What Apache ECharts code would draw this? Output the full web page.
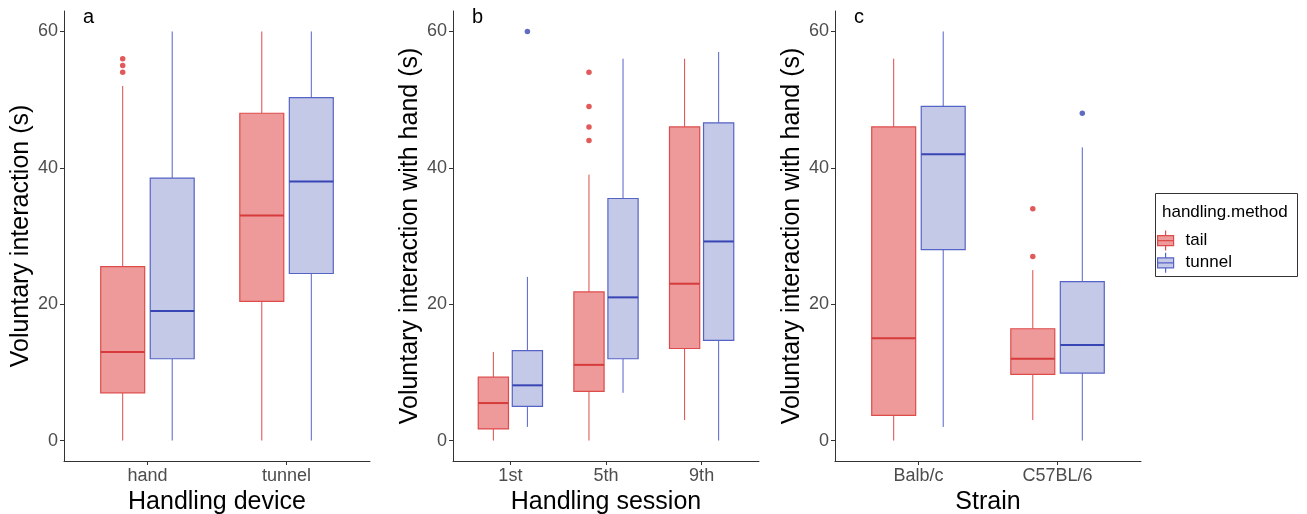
<!DOCTYPE html>
<html>
<head>
<meta charset="utf-8">
<script src="https://cdn.jsdelivr.net/npm/echarts@6/dist/echarts.min.js"></script>
<style>
  html, body { margin: 0; padding: 0; background: #fff; }
  #main { width: 1307px; height: 514px; }
</style>
</head>
<body>
<div id="main"></div>
<script>
// box stats: [whisker low, q1, median, q3, whisker high]
const aCats = ['hand', 'tunnel']
const aTailBox = [[0, 7, 13, 25.5, 52], [0, 20.4, 33, 48, 60]]
const aTunnelBox = [[0, 12, 19, 38.5, 60], [0, 24.5, 38, 50.3, 60]]
const aTailOut = [[1, 56], [1, 55], [1, 54]]
const aTunnelOut = []

const bCats = ['1st', '5th', '9th']
const bTailBox = [[0, 1.7, 5.5, 9.3, 13], [0, 7.2, 11.1, 21.8, 39], [3, 13.5, 23, 46, 56]]
const bTunnelBox = [[2, 5, 8.1, 13.2, 24], [7, 12, 21, 35.5, 56], [0, 14.7, 29.2, 46.6, 57]]
const bTailOut = [[2, 54], [2, 49], [2, 46], [2, 44]]
const bTunnelOut = [[1, 60]]

const cCats = ['Balb/c', 'C57BL/6']
const cTailBox = [[0, 3.7, 15, 46, 56], [3, 9.7, 12, 16.4, 25]]
const cTunnelBox = [[2, 28, 42, 49, 60], [0, 9.9, 14, 23.3, 43]]
const cTailOut = [[2, 34], [2, 27]]
const cTunnelOut = [[2, 48]]

const yTicks = [0, 20, 40, 60]
const FONT = 'Arial, "Liberation Sans", sans-serif'
const BOX_W = 0.316
const DODGE = 0.178

const TAIL = { fill: '#EE9A9A', stroke: '#DE4B4B', median: '#D63A3A', dot: '#D93030' }
const TUNNEL = { fill: '#C5C9E8', stroke: '#5663C6', median: '#3845B5', dot: '#3A46B3' }

const chart = echarts.init(document.getElementById('main'))

function boxRenderer(offset, col) {
    return function (params, api) {
        const x = api.value(0) + offset
        const low = api.coord([x, api.value(1)])
        const q1 = api.coord([x, api.value(2)])
        const med = api.coord([x, api.value(3)])
        const q3 = api.coord([x, api.value(4)])
        const high = api.coord([x, api.value(5)])
        const half = api.size([BOX_W, 0])[0] / 2
        return {
            type: 'group',
            children: [
                { type: 'line', shape: { x1: low[0], y1: low[1], x2: q1[0], y2: q1[1] }, style: { stroke: col.stroke, lineWidth: 1 } },
                { type: 'line', shape: { x1: q3[0], y1: q3[1], x2: high[0], y2: high[1] }, style: { stroke: col.stroke, lineWidth: 1 } },
                { type: 'rect', shape: { x: q3[0] - half, y: q3[1], width: half * 2, height: q1[1] - q3[1] }, style: { fill: col.fill, stroke: col.stroke, lineWidth: 1.2 } },
                { type: 'line', shape: { x1: med[0] - half, y1: med[1], x2: med[0] + half, y2: med[1] }, style: { stroke: col.median, lineWidth: 2 } }
            ]
        }
    }
}

function boxSeries(name, idx, boxes, offset, col) {
    return {
        name: name,
        type: 'custom',
        xAxisIndex: idx,
        yAxisIndex: idx,
        itemStyle: { color: col.fill, borderColor: col.stroke },
        encode: { x: 0, y: [1, 2, 3, 4, 5] },
        data: boxes.map((b, i) => [i + 1].concat(b)),
        renderItem: boxRenderer(offset, col)
    }
}

function outSeries(name, idx, pts, offset, col) {
    return {
        name: name,
        type: 'scatter',
        xAxisIndex: idx,
        yAxisIndex: idx,
        symbolSize: 5.5,
        itemStyle: { color: col.dot },
        data: pts.map(p => [p[0] + offset, p[1]])
    }
}

function xAxis(idx, cats, name) {
    const pos = cats.map((c, i) => i + 1)
    return {
        type: 'value',
        gridIndex: idx,
        min: 0.4,
        max: cats.length + 0.6,
        name: name,
        nameLocation: 'middle',
        nameGap: 27,
        nameTextStyle: { fontSize: 25, color: '#000', fontFamily: FONT },
        axisLine: { show: true, onZero: false, lineStyle: { color: '#333', width: 1 } },
        axisTick: { show: true, length: 4, customValues: pos, lineStyle: { color: '#333' } },
        axisLabel: {
            customValues: pos,
            formatter: v => cats[Math.round(v) - 1],
            fontSize: 18,
            color: '#4d4d4d',
            fontFamily: FONT,
            margin: 6
        },
        splitLine: { show: false }
    }
}

function yAxis(idx, name) {
    return {
        type: 'value',
        gridIndex: idx,
        min: -3,
        max: 63,
        name: name,
        nameLocation: 'middle',
        nameGap: 25,
        nameTextStyle: { fontSize: 25, color: '#000', fontFamily: FONT },
        axisLine: { show: true, onZero: false, lineStyle: { color: '#333', width: 1 } },
        axisTick: { show: true, length: 4, customValues: yTicks, lineStyle: { color: '#333' } },
        axisLabel: { customValues: yTicks, fontSize: 18, color: '#4d4d4d', fontFamily: FONT, margin: 6 },
        splitLine: { show: false }
    }
}

function letter(text, left) {
    return { text: text, left: left, top: 7, padding: 0, textStyle: { fontSize: 20, fontWeight: 'normal', color: '#000', fontFamily: FONT } }
}

chart.setOption({
    backgroundColor: '#fff',
    animation: false,
    textStyle: { fontFamily: FONT },
    title: [
        letter('a', 83),
        letter('b', 472),
        letter('c', 854),
        { text: 'handling.method', left: 1162, top: 204, padding: 0, textStyle: { fontSize: 17, fontWeight: 'normal', color: '#000', fontFamily: FONT } }
    ],
    grid: [
        { left: 64, top: 11, width: 306, height: 450, outerBoundsMode: 'none' },
        { left: 453, top: 11, width: 306, height: 450, outerBoundsMode: 'none' },
        { left: 835, top: 11, width: 306, height: 450, outerBoundsMode: 'none' }
    ],
    xAxis: [
        xAxis(0, aCats, 'Handling device'),
        xAxis(1, bCats, 'Handling session'),
        xAxis(2, cCats, 'Strain')
    ],
    yAxis: [
        yAxis(0, 'Voluntary interaction (s)'),
        yAxis(1, 'Voluntary interaction with hand (s)'),
        yAxis(2, 'Voluntary interaction with hand (s)')
    ],
    legend: {
        orient: 'vertical',
        left: 1157,
        top: 230,
        padding: 0,
        itemGap: 1,
        itemWidth: 30,
        itemHeight: 20,
        selectedMode: false,
        textStyle: { fontSize: 17, color: '#000', fontFamily: FONT },
        data: [
            { name: 'tail', icon: 'path://M8,0L8,5M0,5L16,5L16,15L0,15ZM0,10L16,10M8,15L8,20', itemStyle: { color: TAIL.fill, borderColor: TAIL.stroke, borderWidth: 1.2 } },
            { name: 'tunnel', icon: 'path://M8,0L8,5M0,5L16,5L16,15L0,15ZM0,10L16,10M8,15L8,20', itemStyle: { color: TUNNEL.fill, borderColor: TUNNEL.stroke, borderWidth: 1.2 } }
        ]
    },
    graphic: [
        { type: 'rect', shape: { x: 1155.5, y: 193.5, width: 142, height: 83 }, style: { fill: 'none', stroke: '#333', lineWidth: 1 } }
    ],
    series: [
        boxSeries('tail', 0, aTailBox, -DODGE, TAIL),
        boxSeries('tunnel', 0, aTunnelBox, DODGE, TUNNEL),
        outSeries('tail', 0, aTailOut, -DODGE, TAIL),
        outSeries('tunnel', 0, aTunnelOut, DODGE, TUNNEL),
        boxSeries('tail', 1, bTailBox, -DODGE, TAIL),
        boxSeries('tunnel', 1, bTunnelBox, DODGE, TUNNEL),
        outSeries('tail', 1, bTailOut, -DODGE, TAIL),
        outSeries('tunnel', 1, bTunnelOut, DODGE, TUNNEL),
        boxSeries('tail', 2, cTailBox, -DODGE, TAIL),
        boxSeries('tunnel', 2, cTunnelBox, DODGE, TUNNEL),
        outSeries('tail', 2, cTailOut, -DODGE, TAIL),
        outSeries('tunnel', 2, cTunnelOut, DODGE, TUNNEL)
    ]
})

window.onresize = function () {
    chart.resize()
}
</script>
</body>
</html>
